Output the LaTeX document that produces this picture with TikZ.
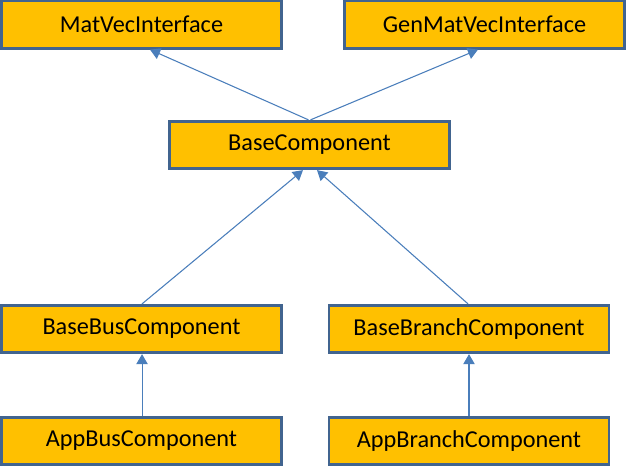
\documentclass[tikz,border=0pt]{standalone}
\usepackage{fontspec}
\usepackage{xcolor}
\usepackage{tikz}
\usetikzlibrary{shapes,arrows.meta,positioning}
\setmainfont{Carlito}
\definecolor{boxfill}{HTML}{FFC000}
\definecolor{boxline}{HTML}{41648F}
\definecolor{arrowline}{HTML}{4A7EBB}

\begin{document}
\begin{tikzpicture}[x=0.75pt, y=-0.75pt, every node/.style={draw=boxline, fill=boxfill, line width=2.2pt, minimum width=210pt, minimum height=35.5pt, inner sep=0pt, text centered, font=\fontsize{18.2}{21}\selectfont}, >={Triangle[length=7.5pt, width=8.5pt]}]
\useasboundingbox (0,0) rectangle (627,470);
\node (mvi) at (141.5,24.5) {MatVecInterface};
\node (gmvi) at (484.5,24.5) {GenMatVecInterface};
\node (base) at (309.5,145) {BaseComponent};
\node (bbus) at (141.5,329) {BaseBusComponent};
\node (bbranch) at (469,329) {BaseBranchComponent};
\node (abus) at (141.5,441) {AppBusComponent};
\node (abranch) at (469,441) {AppBranchComponent};

\draw[->, arrowline, line width=0.8pt] ([xshift=-0.75pt]base.north) -- ([xshift=6.4pt]mvi.south);
\draw[->, arrowline, line width=0.8pt] ([xshift=0.75pt]base.north) -- ([xshift=-4.9pt]gmvi.south);
\draw[->, arrowline, line width=0.8pt] ([xshift=0.4pt]bbus.north) -- ([xshift=-4.9pt]base.south);
\draw[->, arrowline, line width=0.8pt] ([xshift=-0.75pt]bbranch.north) -- ([xshift=5.6pt]base.south);
\draw[->, arrowline, line width=0.8pt] ([xshift=0.4pt]abus.north) -- ([xshift=0.4pt]bbus.south);
\draw[->, arrowline, line width=0.8pt] (abranch.north) -- (bbranch.south);
\end{tikzpicture}
\end{document}
